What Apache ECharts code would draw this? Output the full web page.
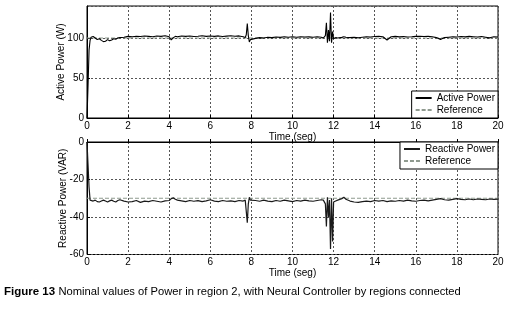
<!DOCTYPE html>
<html><head><meta charset="utf-8">
<script src="https://cdn.jsdelivr.net/npm/echarts@6/dist/echarts.min.js"></script>
<style>html,body{margin:0;padding:0;background:#fff}#c{width:514px;height:311px}</style>
</head><body><div id="c"></div>
<script>
const time = [
  0, 0.05, 0.1, 0.15, 0.2, 0.3, 0.4, 0.5, 0.6, 0.7,
  0.8, 0.9, 1.0, 1.1, 1.2, 1.3, 1.4, 1.5, 1.6, 1.8,
  2.0, 2.2, 2.4, 2.6, 2.8, 3.0, 3.2, 3.4, 3.6, 3.8,
  4.0, 4.1, 4.2, 4.3, 4.4, 4.6, 4.8, 5.0, 5.2, 5.4,
  5.6, 5.8, 6.0, 6.2, 6.4, 6.6, 6.8, 7.0, 7.2, 7.4,
  7.6, 7.7, 7.75, 7.8, 7.85, 7.9, 7.95, 8.0, 8.2, 8.4,
  8.6, 8.8, 9.0, 9.2, 9.4, 9.6, 9.8, 10.0, 10.2, 10.4,
  10.6, 10.8, 11.0, 11.2, 11.4, 11.5, 11.6, 11.65, 11.7, 11.75,
  11.8, 11.85, 11.9, 11.95, 12.0, 12.1, 12.2, 12.4, 12.5, 12.6,
  12.8, 13.0, 13.2, 13.4, 13.6, 13.8, 14.0, 14.2, 14.4, 14.6,
  14.8, 15.0, 15.2, 15.4, 15.6, 15.8, 16.0, 16.2, 16.4, 16.6,
  16.8, 17.0, 17.2, 17.4, 17.6, 17.8, 18.0, 18.2, 18.4, 18.6,
  18.8, 19.0, 19.2, 19.4, 19.6, 19.8, 20.0
];
const activePower = [
  0, 40, 85, 97, 101, 102, 100, 98, 99, 97,
  95.5, 96, 98, 96.5, 97.5, 99, 98.5, 100, 100.5, 101,
  102, 101.5, 102, 101.8, 102.5, 102, 101.5, 102.5, 102, 102.8,
  101.5, 97.5, 100.5, 102, 101.5, 102.5, 102, 102.5, 101.8, 102.2,
  102.8, 102, 102.5, 102, 102.6, 101.8, 102.4, 102.8, 102.2, 102.6,
  101.5, 100.5, 104, 118, 103, 95, 98, 100, 99.5, 100.5,
  100, 101, 100.5, 101.2, 100.8, 101.5, 101, 101.5, 101, 101.6,
  101.2, 101.4, 101, 101.5, 101, 100, 103, 119, 94, 110,
  96, 132, 94, 108, 99, 100.5, 100, 100.8, 101.5, 101,
  100.5, 101, 100.4, 101, 101.6, 101.2, 101.8, 102, 101.5, 97.5,
  101.5, 102, 101.4, 101.8, 101.2, 101.5, 102, 102.2, 101.8, 102,
  101.5, 100.5, 98, 100.5, 101, 101.5, 101.2, 101.8, 101.4, 102,
  101.6, 101.2, 101.8, 101, 100.2, 101.5, 101.2
];
const reactivePower = [
  0, -12, -24, -31, -32, -31.5, -31, -31.8, -32, -31.5,
  -31, -31.5, -32, -31.4, -31, -31.6, -32, -31.2, -30.8, -31.5,
  -32, -31.8, -31.2, -32.2, -31.5, -31.8, -31.2, -31.6, -32, -31.4,
  -31.2, -30.2, -29.8, -30.5, -31, -31.4, -31.8, -31.2, -31.6, -31.3,
  -31.8, -31.4, -30.8, -31.5, -31.8, -31.2, -31.6, -31.4, -31.8, -31.2,
  -31.5, -31, -30.5, -43, -33, -29.5, -31, -32, -31.2, -31.6,
  -31, -31.5, -31.8, -31.2, -31.6, -31, -31.4, -31.8, -31.2, -31.5,
  -31, -31.4, -31.6, -31.2, -30.8, -31, -33, -45, -29.5, -40,
  -31, -57, -30, -53, -32, -31.5, -31, -30.2, -29.5, -30.5,
  -31.5, -32, -32.2, -31.8, -31.5, -31.8, -31.2, -31.5, -31.2, -31.8,
  -31.4, -31.6, -31.2, -31.5, -31, -31.4, -31.6, -31.2, -31, -31.4,
  -31, -30.6, -30.2, -30.8, -31, -30.6, -30.2, -30.6, -30.8, -30.4,
  -30.8, -30.4, -30.6, -30.8, -30.4, -30.6, -30.5
];
const refTime = [0, 20];
const refActive = [100, 100];
const refReactive = [-30, -30];
const xTicks = [0, 2, 4, 6, 8, 10, 12, 14, 16, 18, 20];
const activeTicks = [0, 50, 100];
const reactiveTicks = [-60, -40, -20, 0];

const FONT = "'Liberation Sans', Arial, sans-serif";
const pairs = (xs, ys) => xs.map((x, i) => [x, ys[i]]);
const split = { show: true, lineStyle: { color: '#555', type: [2, 2], width: 1 } };
const lab = { color: '#000', fontSize: 10, fontFamily: FONT };

function xAxis(gi) {
  return {
    type: 'value', gridIndex: gi, min: xTicks[0], max: xTicks[xTicks.length - 1],
    interval: xTicks[1] - xTicks[0],
    name: 'Time (seg)', nameLocation: 'middle', nameGap: 14, nameMoveOverlap: false,
    nameTextStyle: { color: '#000', fontSize: 10, fontFamily: FONT },
    axisLine: { show: true, lineStyle: { color: '#000', width: 1 } },
    axisTick: { show: true, inside: true, length: 3, lineStyle: { color: '#000' } },
    axisLabel: Object.assign({ margin: 3 }, lab),
    splitLine: split
  };
}
function yAxis(gi, name, min, max, interval, gap) {
  return {
    type: 'value', gridIndex: gi, min: min, max: max, interval: interval,
    name: name, nameLocation: 'middle', nameGap: gap, nameMoveOverlap: false,
    nameTextStyle: { color: '#000', fontSize: 10, fontFamily: FONT },
    axisLine: { show: true, lineStyle: { color: '#000', width: 1 } },
    axisTick: { show: true, inside: true, length: 3, lineStyle: { color: '#000' } },
    axisLabel: Object.assign({ margin: 3, showMaxLabel: max % interval === 0 }, lab),
    splitLine: split
  };
}
const legendBase = {
  orient: 'vertical', right: 16, itemWidth: 16, itemHeight: 10, itemGap: 0,
  padding: [1, 3, 2, 3], backgroundColor: '#fff', borderColor: '#000', borderWidth: 1, borderRadius: 0,
  textStyle: { color: '#000', fontSize: 10, fontFamily: FONT, lineHeight: 12 },
  itemStyle: { opacity: 0 },
  selectedMode: false
};

const chart = echarts.init(document.getElementById('c'), null, { renderer: 'canvas' });
chart.setOption({
  animation: false,
  backgroundColor: '#fff',
  grid: [
    { left: 87, top: 6, width: 411, height: 112, show: true, borderColor: '#000', borderWidth: 1, backgroundColor: 'transparent' },
    { left: 87, top: 142, width: 411, height: 112.5, show: true, borderColor: '#000', borderWidth: 1, backgroundColor: 'transparent' }
  ],
  xAxis: [xAxis(0), xAxis(1)],
  yAxis: [
    yAxis(0, 'Active Power (W)', activeTicks[0], 140, activeTicks[1] - activeTicks[0], 21),
    yAxis(1, 'Reactive Power (VAR)', reactiveTicks[0], reactiveTicks[reactiveTicks.length - 1], reactiveTicks[1] - reactiveTicks[0], 19)
  ],
  legend: [
    Object.assign({ top: 91, data: ['Active Power', 'Reference'] }, legendBase),
    Object.assign({ top: 142, data: ['Reactive Power', 'Reference'] }, legendBase)
  ],
  series: [
    { name: 'Reference', type: 'line', xAxisIndex: 0, yAxisIndex: 0, data: pairs(refTime, refActive), showSymbol: false, symbol: 'none',
      lineStyle: { color: '#8f9a8f', width: 1, type: [4, 2] }, itemStyle: { color: '#8f9a8f' }, z: 2 },
    { name: 'Active Power', type: 'line', xAxisIndex: 0, yAxisIndex: 0, data: pairs(time, activePower), showSymbol: false, symbol: 'none',
      lineStyle: { color: '#000', width: 1.1 }, itemStyle: { color: '#000' }, z: 3 },
    { name: 'Reference', type: 'line', xAxisIndex: 1, yAxisIndex: 1, data: pairs(refTime, refReactive), showSymbol: false, symbol: 'none',
      lineStyle: { color: '#8f9a8f', width: 1, type: [4, 2] }, itemStyle: { color: '#8f9a8f' }, z: 2 },
    { name: 'Reactive Power', type: 'line', xAxisIndex: 1, yAxisIndex: 1, data: pairs(time, reactivePower), showSymbol: false, symbol: 'none',
      lineStyle: { color: '#1a1a1a', width: 1.2 }, itemStyle: { color: '#1a1a1a' }, z: 3 }
  ],
  graphic: [{
    type: 'text', left: 4, top: 286,
    style: {
      text: '{b|Figure 13} {n|Nominal values of Power in region 2, with Neural Controller by regions connected}',
      rich: {
        b: { fontSize: 11.5, fontWeight: 'bold', fontFamily: FONT, fill: '#000' },
        n: { fontSize: 11.2, fontFamily: FONT, fill: '#000' }
      }
    }
  }]
});
</script></body></html>
